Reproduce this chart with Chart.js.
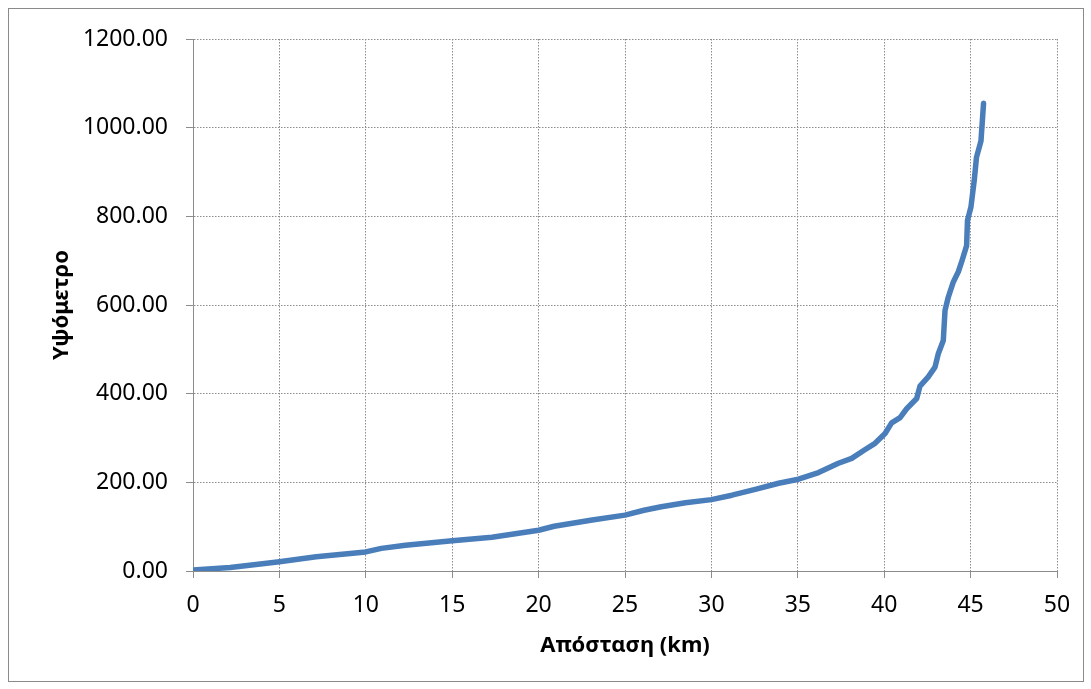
<!DOCTYPE html>
<html>
<head>
<meta charset="utf-8">
<script src="https://cdn.jsdelivr.net/npm/chart.js@4"></script>
<style>
  html, body { margin: 0; padding: 0; background: #fff; }
  #wrap { width: 1091px; height: 689px; position: relative; }
</style>
</head>
<body>
<div id="wrap"><canvas id="chart" width="1091" height="689"></canvas></div>
<script>
// distance (km) and elevation (m)
const distanceKm = [0, 2.15, 4.14, 5, 7.13, 10, 10.9, 12.3, 15, 17.3, 20, 20.9, 23.1, 25, 26.1, 27.1, 28.5, 30,
  31.19, 32.54, 33.89, 35.04, 36.2, 37.35, 38.12, 38.9, 39.47, 40.05, 40.43, 40.92, 41.3, 41.88, 42.07,
  42.55, 42.94, 43.13, 43.42, 43.52, 43.71, 44.0, 44.29, 44.48, 44.77, 44.82, 45.02, 45.21, 45.34, 45.6, 45.75];
const elevation = [2, 8, 17, 21, 32, 43, 51, 58, 68, 76, 92, 101, 115, 126, 137, 145, 154, 161,
  171, 184, 198, 207, 222, 243, 254, 274, 288, 310, 334, 346, 366, 389, 417,
  438, 460, 490, 520, 588, 618, 652, 675, 697, 734, 791, 821, 881, 933, 970, 1055];
const xTicks = [0, 5, 10, 15, 20, 25, 30, 35, 40, 45, 50];
const yTicks = [0, 200, 400, 600, 800, 1000, 1200];

const xTitle = "Απόσταση (km)";
const yTitle = "Υψόμετρο";

const points = distanceKm.map((d, i) => ({ x: d, y: elevation[i] }));

const FONT = "'Noto Sans', 'DejaVu Sans', sans-serif";
const GRID = "#8c8c8c";

// outer frame around the whole chart
const framePlugin = {
  id: "frame",
  beforeDraw(chart) {
    const ctx = chart.ctx;
    ctx.save();
    ctx.fillStyle = "#fff";
    ctx.fillRect(0, 0, chart.width, chart.height);
    ctx.strokeStyle = "#8a8a8a";
    ctx.lineWidth = 1;
    ctx.strokeRect(8.5, 8.5, 1075, 673);
    ctx.restore();
  }
};

new Chart(document.getElementById("chart").getContext("2d"), {
  type: "scatter",
  data: {
    datasets: [{
      data: points,
      showLine: true,
      borderColor: "#4a7ebb",
      borderWidth: 5.5,
      pointRadius: 0,
      tension: 0,
      borderCapStyle: "round",
      borderJoinStyle: "round"
    }]
  },
  options: {
    responsive: false,
    animation: false,
    layout: { padding: { left: 49, right: 34, top: 39, bottom: 30 } },
    plugins: { legend: { display: false }, tooltip: { enabled: false } },
    scales: {
      x: {
        type: "linear",
        min: 0,
        max: 50,
        afterBuildTicks(scale) { scale.ticks = xTicks.map(v => ({ value: v })); },
        afterFit(scale) { scale.height = 88; },
        ticks: { color: "#000", font: { family: FONT, size: 23 }, padding: 14, maxRotation: 0 },
        grid: { color: GRID, lineWidth: 1, tickLength: 7, tickColor: GRID, tickBorderDash: [] },
        border: { color: GRID, width: 1, dash: [1.5, 1.5] },
        title: { display: true, text: xTitle, color: "#000", font: { family: FONT, size: 22, weight: "bold" }, padding: 0 }
      },
      y: {
        type: "linear",
        min: 0,
        max: 1200,
        afterBuildTicks(scale) { scale.ticks = yTicks.map(v => ({ value: v })); },
        afterFit(scale) { scale.width = 144; },
        ticks: { color: "#000", font: { family: FONT, size: 23 }, padding: 18, callback: v => v.toFixed(2) },
        grid: { color: GRID, lineWidth: 1, tickLength: 7, tickColor: GRID, tickBorderDash: [] },
        border: { color: GRID, width: 1, dash: [1.5, 1.5] },
        title: { display: true, text: yTitle, color: "#000", font: { family: FONT, size: 22, weight: "bold" }, padding: 0 }
      }
    }
  },
  plugins: [framePlugin]
});
</script>
</body>
</html>
